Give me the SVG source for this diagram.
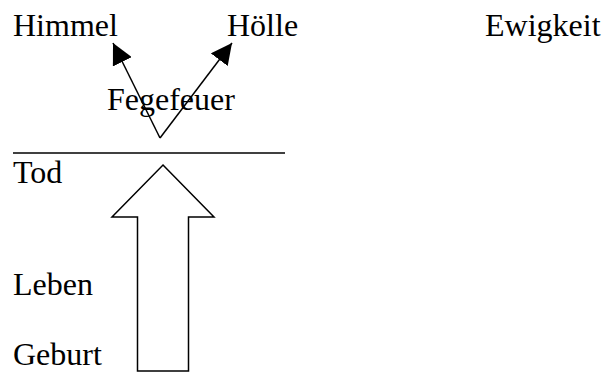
<svg xmlns="http://www.w3.org/2000/svg" width="605" height="372" viewBox="0 0 605 372">
<style>
text{font-family:"Liberation Serif","Times New Roman",serif;font-size:32px;fill:#000}
.ln{stroke:#000;stroke-width:1.5;fill:none}
</style>
<defs>
<marker id="ah" viewBox="0 0 20 20" refX="20" refY="10" markerWidth="21" markerHeight="21" markerUnits="userSpaceOnUse" orient="auto">
<path d="M0,0 L20,10 L0,20 Z" fill="#000"/>
</marker>
</defs>
<rect width="605" height="372" fill="#fff"/>
<g id="himmel"><text x="13" y="36">Himmel</text></g>
<g id="hoelle"><text x="227" y="36">Hölle</text></g>
<g id="ewigkeit"><text x="485" y="36">Ewigkeit</text></g>
<g id="fegefeuer"><text x="107" y="110">Fegefeuer</text></g>
<g id="tod"><text x="13" y="183">Tod</text><line class="ln" x1="13" y1="153" x2="285" y2="153"/></g>
<g id="leben"><text x="13" y="295">Leben</text></g>
<g id="geburt"><text x="13" y="365">Geburt</text></g>
<g id="connectors">
<line class="ln" x1="160" y1="138" x2="113" y2="43" marker-end="url(#ah)"/>
<line class="ln" x1="160" y1="138" x2="232" y2="43" marker-end="url(#ah)"/>
<path class="ln" d="M163,165 L214,217 L188.5,217 L188.5,371 L137.5,371 L137.5,217 L112,217 Z" fill="#fff"/>
</g>
</svg>
